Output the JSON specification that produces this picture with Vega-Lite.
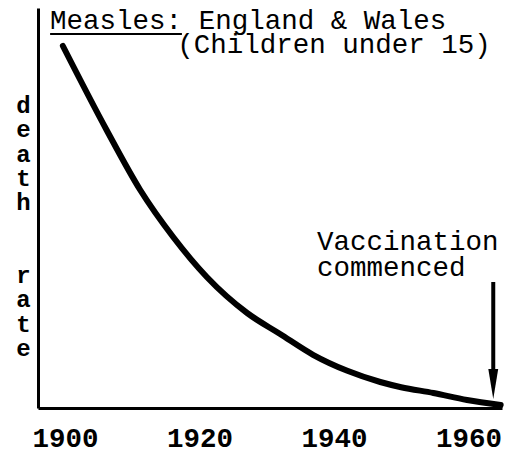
{
  "$schema": "https://vega.github.io/schema/vega-lite/v6.json",
  "width": 464,
  "height": 400,
  "autosize": {"type": "none"},
  "padding": {"left": 38, "top": 8, "right": 4, "bottom": 47},
  "background": "white",
  "config": {"view": {"stroke": null}, "font": "Liberation Mono"},
  "layer": [
    {
      "data": {"values": [
        {"year": 1899.7, "rate": 90.5},
        {"year": 1906.2, "rate": 69.5},
        {"year": 1911.2, "rate": 54.5},
        {"year": 1916.1, "rate": 42.75},
        {"year": 1921.1, "rate": 32.75},
        {"year": 1927.1, "rate": 23.75},
        {"year": 1932.0, "rate": 18.5},
        {"year": 1936.9, "rate": 13.3},
        {"year": 1942.0, "rate": 9.3},
        {"year": 1946.9, "rate": 6.5},
        {"year": 1950.0, "rate": 5.2},
        {"year": 1954.8, "rate": 3.75},
        {"year": 1959.8, "rate": 2.0},
        {"year": 1964.8, "rate": 0.75}
      ]},
      "mark": {"type": "line", "color": "black", "strokeWidth": 6, "interpolate": "monotone", "strokeCap": "round", "clip": false},
      "encoding": {
        "x": {
          "field": "year", "type": "quantitative",
          "scale": {"domain": [1896, 1965], "nice": false, "zero": false},
          "axis": {
            "values": [1900, 1920, 1940, 1960], "format": "d", "title": null,
            "grid": false, "ticks": false, "tickSize": 0,
            "domainColor": "black", "domainWidth": 3,
            "labelFont": "Liberation Mono", "labelFontSize": 27.5, "labelFontWeight": "bold",
            "labelColor": "black", "labelPadding": 16,
            "labelOverlap": false, "labelFlush": false, "labelBound": false
          }
        },
        "y": {
          "field": "rate", "type": "quantitative",
          "scale": {"domain": [0, 100], "nice": false},
          "axis": {
            "title": null,
            "labels": false, "ticks": false, "tickSize": 0, "grid": false,
            "domainColor": "black", "domainWidth": 3
          }
        }
      }
    },
    {
      "data": {"values": [{}]},
      "mark": {"type": "text", "align": "center", "baseline": "alphabetic", "font": "Liberation Mono", "fontSize": 24, "fontWeight": "bold", "lineHeight": 24.3, "color": "black", "clip": false},
      "encoding": {
        "x": {"datum": 1893.84, "type": "quantitative"},
        "y": {"datum": 73.75, "type": "quantitative"},
        "text": {"value": ["d", "e", "a", "t", "h"]}
      }
    },
    {
      "data": {"values": [{}]},
      "mark": {"type": "text", "align": "center", "baseline": "alphabetic", "font": "Liberation Mono", "fontSize": 24, "fontWeight": "bold", "lineHeight": 24.3, "color": "black", "clip": false},
      "encoding": {
        "x": {"datum": 1893.84, "type": "quantitative"},
        "y": {"datum": 31.25, "type": "quantitative"},
        "text": {"value": ["r", "a", "t", "e"]}
      }
    },
    {
      "data": {"values": [{}]},
      "mark": {"type": "text", "align": "left", "baseline": "alphabetic", "font": "Liberation Mono", "fontSize": 27.5, "color": "black", "clip": false},
      "encoding": {
        "x": {"datum": 1897.8, "type": "quantitative"},
        "y": {"datum": 94.75, "type": "quantitative"},
        "text": {"value": "Measles: England & Wales"}
      }
    },
    {
      "data": {"values": [{}]},
      "mark": {"type": "text", "align": "left", "baseline": "alphabetic", "font": "Liberation Mono", "fontSize": 27.5, "color": "black", "clip": false},
      "encoding": {
        "x": {"datum": 1916.7, "type": "quantitative"},
        "y": {"datum": 88.75, "type": "quantitative"},
        "text": {"value": "(Children under 15)"}
      }
    },
    {
      "data": {"values": [{}]},
      "mark": {"type": "rule", "color": "black", "strokeWidth": 2, "clip": false},
      "encoding": {
        "x": {"datum": 1897.8, "type": "quantitative"},
        "x2": {"datum": 1917.4},
        "y": {"datum": 93.5, "type": "quantitative"}
      }
    },
    {
      "data": {"values": [{}]},
      "mark": {"type": "text", "align": "left", "baseline": "alphabetic", "font": "Liberation Mono", "fontSize": 27.5, "lineHeight": 26, "color": "black", "clip": false},
      "encoding": {
        "x": {"datum": 1937.5, "type": "quantitative"},
        "y": {"datum": 39.5, "type": "quantitative"},
        "text": {"value": ["Vaccination", "commenced"]}
      }
    },
    {
      "data": {"values": [{}]},
      "mark": {"type": "rule", "color": "black", "strokeWidth": 4, "clip": false},
      "encoding": {
        "x": {"datum": 1963.7, "type": "quantitative"},
        "y": {"datum": 31.5, "type": "quantitative"},
        "y2": {"datum": 9}
      }
    },
    {
      "data": {"values": [{}]},
      "mark": {"type": "point", "shape": "M-0.33,-1L0.33,-1L0,1Z", "size": 900, "filled": true, "color": "black", "opacity": 1, "clip": false},
      "encoding": {
        "x": {"datum": 1963.7, "type": "quantitative"},
        "y": {"datum": 6, "type": "quantitative"}
      }
    }
  ]
}
